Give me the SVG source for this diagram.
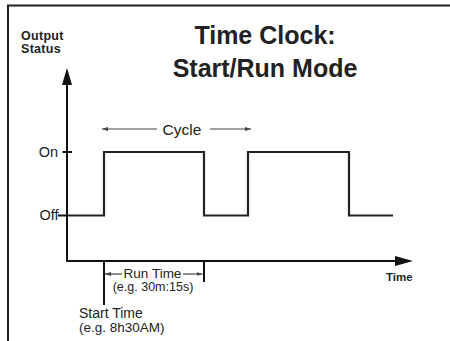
<svg xmlns="http://www.w3.org/2000/svg" width="450" height="341" viewBox="0 0 450 341">
<defs>
<marker id="small" viewBox="0 0 6 6" refX="6" refY="3" markerWidth="6" markerHeight="6" markerUnits="userSpaceOnUse" orient="auto"><path d="M0,1 L6,3 L0,5 Z" fill="#444"/></marker>
</defs>
<style>
text{font-family:"Liberation Sans",Arial,sans-serif;fill:#222}
.b{font-weight:bold}
.ax{stroke:#111;stroke-width:2;fill:none}
.wave{stroke:#222;stroke-width:2.2;fill:none}
.thin{stroke:#444;stroke-width:1.2;fill:none}
</style>
<rect width="450" height="341" fill="#fff"/>
<g id="frame"><path d="M8,341 V5.5 H450" stroke="#222" stroke-width="2" fill="none"/></g>
<g id="title"><text class="b" x="265" y="44" font-size="25" text-anchor="middle">Time Clock:</text><text class="b" x="265" y="77" font-size="25" text-anchor="middle">Start/Run Mode</text></g>
<g id="y-axis-label"><text class="b" x="21" y="40" font-size="12.5" letter-spacing="0.3">Output</text><text class="b" x="21" y="53" font-size="12.5" letter-spacing="0.3">Status</text></g>
<g id="x-axis-label"><text class="b" x="386" y="281" font-size="11.5">Time</text></g>
<g id="levels"><text x="58" y="157" font-size="14.5" text-anchor="end">On</text><text x="58.5" y="220" font-size="14.5" text-anchor="end">Off</text></g>
<g id="connectors">
<path class="ax" d="M67,85 V261 H396"/>
<path d="M62,85 L67,68 L72,85 Z" fill="#111"/>
<path d="M395,256 L413,261 L395,266 Z" fill="#111"/>
<path class="ax" d="M62.5,152 H72 M58,215.5 H67"/>
</g>
<g id="waveform"><path class="wave" d="M67,215.5 H104 V152 H204 V215.5 H248 V152 H349 V215.5 H393"/></g>
<g id="cycle"><path class="thin" d="M157,129 H102" marker-end="url(#small)"/><path class="thin" d="M210,129 H251" marker-end="url(#small)"/><text x="182" y="134.5" font-size="15.5" text-anchor="middle">Cycle</text></g>
<g id="run-time"><path class="ax" d="M104,261 V305 M204,261 V282"/><path class="thin" d="M122,274 H105" marker-end="url(#small)"/><path class="thin" d="M183,274 H202.5" marker-end="url(#small)"/><text x="152.5" y="278" font-size="13.5" text-anchor="middle">Run Time</text><text x="153" y="291" font-size="12.5" text-anchor="middle">(e.g. 30m:15s)</text></g>
<g id="start-time"><text x="79" y="318" font-size="14">Start Time</text><text x="79" y="332" font-size="13.5">(e.g. 8h30AM)</text></g>
</svg>
